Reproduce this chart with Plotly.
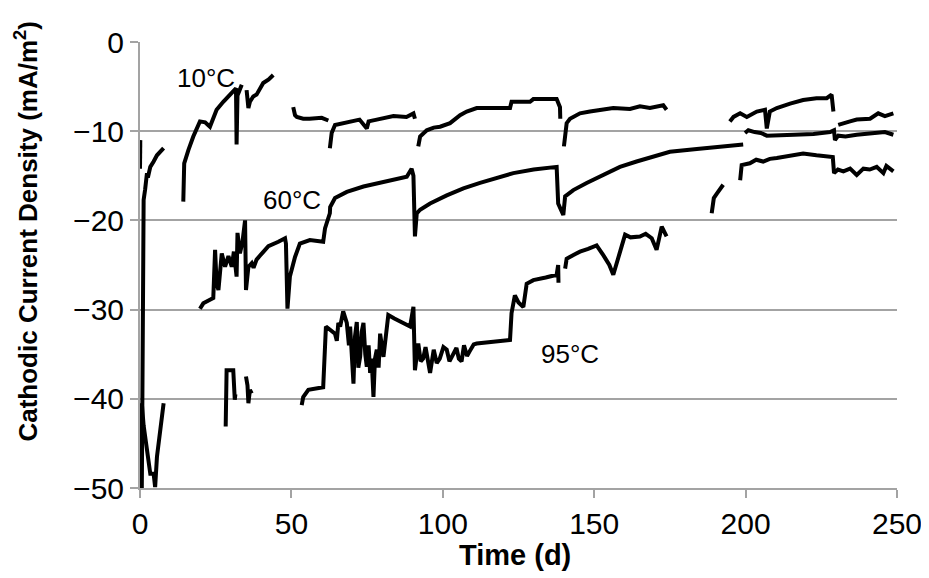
import plotly.graph_objects as go

# ---------------- data ----------------
days_10 = [0.6, 0.7, 0.9, 1.0, 1.2, 1.7, 2.3, 2.6, 3.4, 4.5, 5.6, 7.8, None,
           14.3, 14.4, 14.6, 16.0, 17.6, 19.8, 21.5, 23.1, 25.3, 27.5, 29.7, 31.7, 31.9, 32.2, 33.6, None,
           35.2, 35.8, 36.3, 37.4, 38.5, 40.7, 42.5, 44.0, None,
           50.6, 51.2, 51.8, 53.9, 56.0, 58.4, 60.0, 62.2, None,
           62.7, 63.0, 63.3, 64.4, 67.1, 70.4, 72.5, 74.9, 75.5, 78.2, 80.5, 83.7, 88.0, 90.3, 90.8, None,
           91.9, 92.2, 92.5, 94.7, 97.0, 99.1, 102.4, 105.7, 107.9, 111.2, 116.0, 122.2, 122.7, 128.8, 129.9, 137.6, 138.7, 138.8, None,
           140.0, 140.4, 140.9, 142.0, 145.3, 148.6, 152.0, 156.3, 161.8, 165.1, 168.4, 172.8, 173.9, None,
           194.8, 196.0, 198.2, 200.4, 203.7, 206.4, 207.0, 207.6, 208.0, 210.3, 212.0, 214.7, 219.0, 223.4, 226.8, 228.4, 229.0, None,
           230.6, 232.3, 234.5, 236.7, 239.0, 241.1, 243.8, 246.0, 248.8]
vals_10 = [-50, -40, -30, -22, -17.7, -16.5, -14.7, -15.2, -14.0, -13.4, -12.7, -11.9, None,
           -17.9, -15.5, -13.6, -12.1, -10.6, -8.9, -9.0, -9.5, -7.6, -6.7, -5.9, -5.2, -11.5, -6.0, -4.8, None,
           -5.4, -7.4, -6.7, -6.1, -5.9, -4.6, -4.2, -3.7, None,
           -7.3, -8.2, -8.4, -8.6, -8.6, -8.6, -8.5, -8.8, None,
           -11.9, -10.8, -10.2, -9.3, -9.1, -8.9, -8.7, -9.7, -8.9, -8.7, -8.5, -8.3, -8.4, -8.0, -8.6, None,
           -11.7, -10.8, -10.6, -9.9, -9.6, -9.5, -9.1, -8.2, -7.8, -7.4, -7.4, -7.4, -6.7, -6.7, -6.4, -6.4, -7.3, -8.6, None,
           -11.7, -10.0, -9.1, -8.6, -8.0, -7.8, -7.6, -7.4, -7.5, -7.2, -7.4, -7.1, -7.6, None,
           -8.9, -8.4, -8.0, -8.4, -7.8, -7.6, -9.7, -8.0, -7.8, -7.4, -7.2, -6.9, -6.5, -6.3, -6.3, -5.9, -7.8, None,
           -9.3, -9.1, -8.9, -8.7, -8.7, -8.6, -8.0, -8.3, -8.0]

days_60 = [0.1, 0.0, None,
           19.8, 20.9, 23.1, 24.2, 24.8, 25.3, 25.9, 27.0, 28.1, 29.2, 30.3, 31.0, 31.9, 32.2, 33.0, 33.8, 34.7, 35.0,
           35.8, 36.9, 37.5, 38.5, 40.0, 42.4, 45.7, 47.9, 48.2, 48.7, 49.5, 51.2, 52.8, 56.1, 60.5, 61.1, 62.7,
           62.8, 64.4, 68.3, 73.8, 79.3, 83.7, 88.1, 89.7, 90.3, 90.8, 91.4, 92.5, 95.8, 101.3, 106.8, 112.3, 118.0,
           123.3, 130.0, 137.6, 138.1, 139.8, 140.4, 143.1, 147.5, 154.1, 158.5, 164.0, 168.4, 175.0, 183.9, 192.6, 199.2, None,
           199.8, 200.9, 203.0, 205.0, 207.0, 211.4, 216.0, 222.4, 227.9, 229.2, 229.5, 230.6, 233.0, 236.7, 240.0, 243.3, 246.0, 248.8]
vals_60 = [-11.0, -14.2, None,
           -29.9, -29.3, -28.9, -28.7, -23.3, -27.1, -27.8, -23.7, -25.2, -24.0, -25.2, -23.5, -26.3, -21.4, -23.7, -22.5, -20.0, -27.8,
           -25.2, -24.8, -25.3, -24.4, -23.8, -22.9, -22.4, -22.0, -22.6, -29.9, -26.3, -24.1, -22.6, -22.2, -22.4, -20.9, -19.2,
           -18.5, -17.5, -16.8, -16.2, -15.8, -15.5, -15.1, -14.2, -15.0, -21.8, -19.2, -18.8, -18.1, -17.2, -16.4, -15.8, -15.2,
           -14.7, -14.3, -14.0, -18.1, -19.4, -17.3, -16.6, -15.8, -14.7, -14.0, -13.4, -13.0, -12.3, -12.0, -11.7, -11.5, None,
           -10.2, -9.9, -10.1, -10.2, -10.5, -10.4, -10.4, -10.3, -10.1, -9.9, -11.0, -10.5, -10.6, -10.4, -10.3, -10.1, -10.1, -10.4]

days_95 = [0.3, 0.6, 1.2, 2.3, 3.4, 4.5, 5.0, 5.6, 6.7, 7.8, None,
           28.3, 28.6, 30.8, 31.3, 31.5, None,
           35.0, 35.5, 35.8, 36.3, 36.9, None,
           53.4, 53.9, 55.6, 60.5, 61.4, 62.7, 64.4, 65.0, 65.5, 66.1, 67.1, 68.3, 69.0, 69.4, 70.0, 70.5, 71.0, 71.6,
           72.1, 72.7, 73.2, 73.8, 74.4, 74.9, 75.5, 76.0, 76.5, 77.1, 77.6, 78.2, 78.8, 79.3, 80.4, 82.0, 84.0, 89.2,
           90.3, 90.8, 91.9, 92.7, 93.5, 94.3, 95.8, 97.0, 98.0, 99.0, 100.2, 101.3, 102.2, 103.0, 104.5, 105.3, 106.2,
           107.0, 108.0, 109.0, 110.2, 111.2, 116.0, 122.2, 122.7, 123.8, 125.0, 126.6, 127.7, 129.9, 134.0, 137.6, 138.1, 138.2, None,
           140.4, 140.9, 143.0, 145.3, 148.0, 150.8, 153.0, 155.0, 156.3, 157.5, 160.2, 162.0, 165.1, 167.0, 169.0, 170.6, 172.3, 173.9, None,
           188.8, 189.5, 190.5, 192.6, None,
           198.2, 198.7, 201.4, 203.5, 205.8, 208.0, 210.3, 214.7, 219.0, 223.4, 227.9, 228.8, 229.2, 230.5, 232.3, 234.5,
           236.7, 238.9, 241.0, 243.3, 245.5, 246.5, 248.8]
vals_95 = [-50, -40.5, -43.0, -46.1, -48.4, -48.4, -49.9, -46.5, -43.5, -40.5, None,
           -43.1, -36.8, -36.8, -40.1, -39.5, None,
           -37.5, -38.5, -40.5, -39.0, -39.4, None,
           -40.7, -39.8, -39.0, -38.7, -31.9, -32.3, -32.7, -33.5, -31.5, -31.9, -30.2, -31.5, -34.0, -31.9, -36.0, -38.3, -33.0, -31.4,
           -36.5, -35.3, -32.5, -31.5, -35.0, -36.4, -34.0, -37.1, -35.5, -39.8, -35.5, -34.5, -36.5, -32.7, -35.3, -30.6, -31.0, -31.9,
           -29.7, -36.8, -33.8, -35.8, -35.5, -34.2, -37.1, -34.5, -36.0, -35.5, -34.2, -34.5, -35.8, -35.2, -34.3, -35.5, -35.8,
           -34.0, -35.2, -34.6, -33.9, -33.8, -33.6, -33.4, -30.4, -28.4, -29.2, -29.7, -27.1, -26.7, -26.4, -26.1, -25.0, -27.0, None,
           -25.4, -24.3, -23.9, -23.5, -23.2, -22.8, -23.9, -25.0, -26.1, -24.8, -21.6, -21.9, -21.8, -21.5, -22.0, -23.3, -20.7, -21.8, None,
           -19.2, -17.5, -17.0, -16.0, None,
           -15.5, -13.8, -13.6, -13.2, -13.4, -13.1, -13.0, -12.7, -12.5, -12.7, -12.8, -12.9, -14.7, -14.3, -14.5, -14.2,
           -14.9, -14.2, -14.3, -14.0, -14.7, -13.9, -14.5]

series_names = ["10°C", "60°C", "95°C"]
label_days = [21.8, 50.2, 142.0]
label_vals = [-4.0, -17.7, -35.0]

x_ticks = [0, 50, 100, 150, 200, 250]
y_ticks = [0, -10, -20, -30, -40, -50]

# ---------------- figure ----------------
FONT = "Arial, 'Liberation Sans', Helvetica, sans-serif"
GRAY = "#a3a3a3"

fig = go.Figure()
for name, xs, ys in zip(series_names, [days_10, days_60, days_95], [vals_10, vals_60, vals_95]):
    fig.add_trace(go.Scatter(x=xs, y=ys, mode="lines", name=name,
                             line=dict(color="black", width=4),
                             connectgaps=False, showlegend=False))

for name, lx, ly in zip(series_names, label_days, label_vals):
    fig.add_annotation(x=lx, y=ly, text=name, showarrow=False,
                       font=dict(family=FONT, size=26, color="black"))

fig.add_annotation(xref="paper", yref="paper", x=0.496, y=-0.150, text="<b>Time (d)</b>",
                   showarrow=False, font=dict(family=FONT, size=29, color="black"),
                   xanchor="center", yanchor="middle")
fig.add_annotation(xref="paper", yref="paper", x=-0.150, y=0.576,
                   text="<b>Cathodic Current Density (mA/m<sup>2</sup>)</b>",
                   showarrow=False, textangle=-90,
                   font=dict(family=FONT, size=26, color="black"),
                   xanchor="center", yanchor="middle")

# the page body adds an 8px offset, so the figure is 8px smaller and margins shifted
fig.update_layout(
    width=921, height=570,
    margin=dict(l=132, r=32, t=34, b=90),
    paper_bgcolor="white", plot_bgcolor="white",
    font=dict(family=FONT, color="black"),
    xaxis=dict(range=[0, 250], tickvals=x_ticks, showgrid=False, zeroline=False,
               showline=True, linecolor=GRAY, linewidth=2, automargin=False,
               ticks="outside", ticklen=8, tickwidth=2, tickcolor=GRAY,
               tickfont=dict(family=FONT, size=30, color="black")),
    yaxis=dict(range=[-50, 0], tickvals=y_ticks, showgrid=True, gridcolor=GRAY, gridwidth=2,
               zeroline=False, showline=True, linecolor=GRAY, linewidth=2, automargin=False,
               ticks="outside", ticklen=8, tickwidth=2, tickcolor=GRAY, ticksuffix="\u00a0",
               tickfont=dict(family=FONT, size=30, color="black")),
)

fig.write_html("out.html")
